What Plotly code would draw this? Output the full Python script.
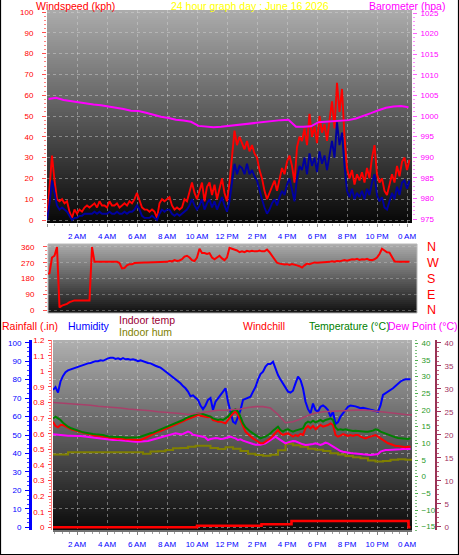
import math
import plotly.graph_objects as go

W, H = 459, 555
FONT = "Liberation Sans, Arial, sans-serif"

def px(x):
    return x / W

def py(y):
    return 1 - y / H

# ---------------- data ----------------
hour_ticks = [2, 4, 6, 8, 10, 12, 14, 16, 18, 20, 22, 24]
hour_labels = ["2 AM", "4 AM", "6 AM", "8 AM", "10 AM", "12 PM",
               "2 PM", "4 PM", "6 PM", "8 PM", "10 PM", "0 AM"]

# wind (10-minute samples from midnight)
gust_kph = [
    0, 14, 31, 19, 10, 9,
    10, 8, 9, 4, 1, 5,
    3, 5, 4, 6, 7, 6,
    7, 8, 6, 9, 7, 7,
    6, 9, 7, 7, 8, 6,
    7, 8, 7, 9, 8, 10,
    13, 9, 6, 5, 5, 4,
    5, 4, 1, 8, 10, 9,
    10, 11, 7, 5, 6, 5,
    6, 10, 9, 14, 18, 13,
    10, 14, 18, 9, 16, 18,
    12, 17, 10, 15, 20, 13,
    9, 18, 30, 43, 36, 40,
    37, 34, 38, 33, 36, 32,
    30, 24, 20, 14, 10, 13,
    16, 19, 14, 20, 25, 22,
    28, 31, 26, 18, 35, 40,
    38, 44, 36, 51, 40, 45,
    37, 50, 42, 46, 38, 48,
    57, 44, 66, 52, 63, 40,
    25, 20, 24, 17, 22, 19,
    23, 18, 25, 20, 30, 36,
    22, 18, 20, 14, 12, 17,
    22, 18, 26, 21, 28, 30,
    24, 29]
avg_kph = [
    0, 8, 19, 12, 7, 5,
    6, 5, 4, 2, 0, 1,
    1, 2, 2, 3, 3, 3,
    3, 4, 3, 4, 3, 3,
    3, 4, 3, 3, 4, 3,
    3, 4, 3, 4, 4, 5,
    7, 5, 2, 1, 1, 1,
    2, 1, 0, 3, 5, 4,
    5, 5, 3, 2, 3, 2,
    3, 4, 5, 7, 10, 7,
    5, 7, 10, 5, 8, 10,
    6, 9, 5, 8, 11, 7,
    4, 9, 18, 27, 22, 26,
    25, 22, 27, 22, 24, 21,
    19, 14, 10, 6, 3, 5,
    8, 10, 7, 11, 14, 12,
    17, 20, 15, 9, 20, 26,
    24, 30, 22, 32, 26, 30,
    23, 33, 27, 31, 24, 32,
    38, 30, 47, 36, 42, 26,
    14, 11, 15, 10, 13, 11,
    14, 10, 15, 12, 18, 22,
    12, 9, 11, 6, 5, 9,
    13, 10, 16, 12, 18, 19,
    15, 19]
wind_dir_deg = [
    205, 210, 300, 310, 360, 15,
    25, 30, 35, 45, 52, 55,
    55, 55, 55, 55, 55, 55,
    360, 275, 275, 275, 275, 275,
    275, 275, 275, 275, 275, 268,
    238, 240, 255, 262, 262, 268,
    270, 272, 272, 272, 272, 272,
    272, 272, 272, 272, 272, 272,
    275, 280, 278, 285, 280, 283,
    290, 305, 310, 300, 285, 280,
    300, 350, 325, 325, 320, 325,
    300, 290, 300, 310, 295, 285,
    300, 355, 350, 345, 340, 330,
    335, 330, 338, 335, 338, 335,
    335, 340, 335, 335, 345, 330,
    310, 285, 270, 265, 262, 260,
    262, 258, 262, 260, 255, 250,
    242, 255, 265, 262, 268, 272,
    270, 272, 274, 272, 274, 275,
    278, 276, 280, 278, 282, 285,
    282, 286, 290, 288, 292, 286,
    290, 288, 292, 286, 285, 290,
    300, 320, 350, 340, 330, 328,
    300, 278, 275, 275, 278, 275,
    275, 275]
# barometer (30-minute samples from 00:06)
baro_hpa = [
    1004.1, 1004.4, 1003.9, 1003.6, 1003.3, 1003.1, 1002.8, 1002.6,
    1002.3, 1002.1, 1001.7, 1001.3, 1001.2, 1000.8, 1000.3, 999.8,
    999.5, 999.1, 998.9, 998.6, 997.6, 997.5, 997.3, 997.4,
    997.6, 997.8, 998.0, 998.2, 998.5, 998.7, 998.9, 999.0,
    999.1, 997.4, 997.4, 997.5, 998.5, 998.6, 998.7, 998.9,
    999.0, 999.4, 1000.0, 1000.7, 1001.4, 1002.0, 1002.3, 1002.4,
    1002.1]

# outdoor (10-minute samples from 00:24)
humidity_pct = [
    74.4, 76, 73, 79, 82, 84,
    85, 85.5, 86, 86.5, 87, 87.5,
    88, 88.5, 88.8, 89, 89.5, 90,
    90, 90.5, 90.2, 91, 91.5, 91.8,
    91.9, 91.2, 91.5, 91, 91.6, 91,
    91.2, 90.8, 91, 90.6, 90, 90.4,
    89.8, 89.5, 89, 88.8, 88, 87.5,
    87, 86.5, 85.5, 84.5, 83.4, 82,
    81, 80, 79, 78, 76.5, 75.3,
    73.5, 71, 71.5, 70.5, 69, 66,
    64, 66, 69, 70, 63.5, 68,
    70, 71.7, 74, 75.3, 68, 61.8,
    57.2, 56.3, 60, 63.5, 69, 69.5,
    70, 70.7, 73.5, 76, 80, 83,
    84.3, 87, 88.5, 88.5, 89.7, 85.5,
    82.5, 80, 78, 76, 73.5, 73,
    74, 78, 81.6, 79.8, 75.3, 68,
    64, 61.8, 67, 63.5, 62.6, 65.3,
    66, 65, 63.5, 60, 62.6, 56,
    57, 60, 61.8, 64, 65.3, 66,
    65.9, 65.5, 65, 64.5, 64.8, 64.5,
    64.3, 64, 63.5, 63, 62.6, 66,
    71.7, 72.5, 73.5, 74.5, 75.3, 76.5,
    78, 79, 79.7, 80.2, 80.2, 80.2]
temp_c = [
    17.5, 18, 17.5, 17, 16.2, 15.5,
    15, 14.6, 14.3, 14, 13.7, 13.5,
    13.3, 13.2, 13, 12.9, 12.8, 12.7,
    12.7, 12.6, 12.5, 12.3, 12.1, 12,
    12, 12, 11.9, 12, 11.8, 11.7,
    11.7, 11.6, 11.7, 11.7, 11.8, 12,
    12.3, 12.5, 12.7, 13, 13.2, 13.6,
    14, 14.2, 14.5, 14.8, 15, 15.5,
    15.8, 16, 16.2, 16.6, 17, 17.5,
    17.8, 18.2, 18.5, 18.8, 19, 19,
    18.8, 18.5, 18.2, 18, 17.5, 17.2,
    17, 17.2, 17, 17.5, 18, 19,
    19.8, 20.2, 19.5, 18, 16, 14.8,
    14, 13.5, 13, 12.5, 12, 11.5,
    11.8, 12, 12.5, 13, 13.8, 14.5,
    15, 14, 13.5, 14, 14.2, 13.8,
    13.5, 13.8, 14, 14.2, 14.5, 16,
    16.5, 16.2, 16.8, 16.3, 16.6, 17,
    16.5, 17, 17.2, 17.5, 17, 14.8,
    14, 14.2, 14, 14.2, 14, 13.8,
    13.7, 13.8, 13.7, 13.5, 13.6, 13.5,
    13.5, 13.6, 13.8, 14.2, 14, 13.5,
    13.2, 12.8, 12.5, 12.3, 12, 11.8,
    11.6, 11.5, 11.4, 11.2, 11.3, 11.5]
windchill_c = [
    16.5, 15.2, 14.8, 15.5, 15.5, 15.2,
    14.7, 14.3, 14, 13.8, 13.6, 13.4,
    13.2, 13, 12.8, 12.6, 12.4, 12.3,
    12.3, 12.2, 12.1, 12, 11.8, 11.6,
    11.6, 11.5, 11.4, 11.5, 11.3, 11.2,
    11.2, 11.1, 11.2, 11.1, 11, 11,
    11.2, 11.6, 12, 12.4, 12.7, 13.1,
    13.5, 13.7, 14, 14.3, 14.6, 15,
    15.3, 15.6, 16, 16.2, 16.6, 17,
    17.3, 17.7, 18, 18.3, 18.5, 18.3,
    18.2, 18, 17.8, 18, 17, 16.8,
    16.5, 16.5, 16.3, 16, 17, 18,
    19, 19.5, 18.5, 17, 15, 13.5,
    12.8, 12, 11.5, 11, 10.5, 10,
    10, 10.5, 11, 11.5, 12.3, 13,
    14, 13, 12.5, 12.8, 13, 12.5,
    12, 12.5, 12.2, 12.8, 12.5, 14.5,
    15.2, 14.5, 15.2, 14.2, 15, 15.5,
    15, 15.2, 15.5, 16, 15.5, 12.5,
    12, 12.3, 12.8, 12.5, 12.2, 12.5,
    12.2, 12.5, 12.5, 12, 11.8, 11.5,
    11.8, 12, 12.2, 12.5, 12, 11.5,
    11, 10.5, 10, 9.8, 9.5, 9.2,
    9.2, 9, 8.8, 8.8, 9, 9]
dewpoint_c = [
    12.7, 12.6, 12.5, 12.5, 12.4, 12.3,
    12.3, 12.3, 12.2, 12.3, 12.2, 12.2,
    12.1, 12, 11.8, 11.7, 11.6, 11.5,
    11.4, 11.3, 11.2, 11.1, 11, 11,
    11, 11.1, 11, 10.9, 10.9, 10.8,
    10.7, 10.7, 10.6, 10.5, 10.5, 10.5,
    10.5, 10.6, 10.7, 10.9, 11.1, 11.3,
    11.5, 11.8, 12, 12.2, 12.4, 12.6,
    12.8, 13, 12.9, 12.7, 12.8, 13.1,
    13.5, 13.2, 12.6, 12.4, 12.3, 12.2,
    12, 11.7, 11, 11.3, 11.5, 11.6,
    11.5, 11.3, 11.4, 11.6, 11.8, 12,
    11.7, 11.5, 11, 11.2, 10.8, 10.5,
    10.2, 10, 9.8, 9.6, 9.5, 9.6,
    9.8, 10, 10.5, 11, 11.5, 12,
    11.5, 11, 10.5, 10, 10.3, 10.5,
    10.7, 10.6, 10.2, 10, 9.7, 9.5,
    9.6, 9.6, 9.8, 10, 9.8, 9.5,
    9.8, 10.2, 10, 9.5, 9, 8.5,
    8, 7.7, 7.5, 7.3, 7.2, 7.1,
    7, 7, 6.9, 6.8, 6.7, 6.6,
    6.5, 6.5, 6.6, 6.7, 6.8, 7.5,
    7.8, 8, 8, 8, 8, 8,
    8.1, 8.2, 8.3, 8.3, 8.3, 8.3]
# indoor (30-minute samples from 00:24)
indoor_temp_c = [
    27.0, 26.9, 26.8, 26.7, 26.5, 26.4, 26.2, 26.1, 25.9, 25.8,
    25.6, 25.5, 25.3, 25.2, 25.0, 24.9, 24.8, 24.6, 24.4, 24.6,
    24.9, 25.1, 25.3, 25.3, 25.4, 25.6, 25.9, 26.1, 26.1, 25.8,
    24.4, 22.6, 22.8, 23.4, 24.2, 24.7, 25.0, 25.1, 25.2, 25.3,
    25.4, 25.4, 25.3, 25.1, 25.0, 24.8, 24.6, 24.4, 24.3]
indoor_hum_pct = [
    39.5, 39.5, 40.6, 40.6, 40.6, 40.6, 40.6, 40.6, 40.6, 40.6,
    40.6, 40.6, 39.8, 41.0, 41.2, 41.9, 42.8, 43.0, 43.6, 44.2,
    44.2, 43.0, 42.4, 43.3, 42.5, 41.3, 39.8, 39.2, 38.8, 39.3,
    41.8, 45.3, 44.4, 43.6, 42.6, 42.0, 41.3, 40.1, 39.4, 38.6,
    38.0, 37.4, 36.2, 35.6, 35.9, 36.6, 36.9, 36.6, 36.5]
# rainfall (step changes)
rain_hours = [0.4, 10.0, 14.3, 16.3, 24.1, 24.23]
rain_in = [0.0, 0.01, 0.02, 0.04, 0.0, 0.0]

t_wind = [i / 6 for i in range(len(gust_kph))]
t_dir = [i / 6 for i in range(len(wind_dir_deg))]
t_baro = [0.1 + 0.5 * k for k in range(len(baro_hpa))]
t_out = [0.4 + i / 6 for i in range(len(humidity_pct))]
t_in = [0.4 + 0.5 * k for k in range(len(indoor_temp_c))]

# ---------------- figure ----------------
fig = go.Figure()

fig.add_trace(go.Scatter(x=t_wind, y=gust_kph, xaxis="x", yaxis="y", mode="lines",
                         line=dict(color="#ff0000", width=1.9)))
fig.add_trace(go.Scatter(x=t_wind, y=avg_kph, xaxis="x", yaxis="y", mode="lines",
                         line=dict(color="#0000a0", width=1.9)))
fig.add_trace(go.Scatter(x=t_baro, y=baro_hpa, xaxis="x", yaxis="y2", mode="lines",
                         line=dict(color="#ff00ff", width=2)))

fig.add_trace(go.Scatter(x=t_dir, y=wind_dir_deg, xaxis="x2", yaxis="y3", mode="lines",
                         line=dict(color="#ff0000", width=2)))
fig.add_trace(go.Scatter(x=t_dir[:1], y=wind_dir_deg[:1], xaxis="x2", yaxis="y4", mode="markers",
                         marker=dict(opacity=0)))

fig.add_trace(go.Scatter(x=rain_hours, y=rain_in, xaxis="x3", yaxis="y6", mode="lines",
                         line=dict(color="#ff0000", width=2.6, shape="hv")))
fig.add_trace(go.Scatter(x=t_in, y=indoor_hum_pct, xaxis="x3", yaxis="y5", mode="lines",
                         line=dict(color="#808000", width=2, shape="hv")))
fig.add_trace(go.Scatter(x=t_in, y=indoor_temp_c, xaxis="x3", yaxis="y8", mode="lines",
                         line=dict(color="#a8406a", width=1.6)))
fig.add_trace(go.Scatter(x=t_out, y=dewpoint_c, xaxis="x3", yaxis="y7", mode="lines",
                         line=dict(color="#ff00ff", width=2)))
fig.add_trace(go.Scatter(x=t_out, y=windchill_c, xaxis="x3", yaxis="y7", mode="lines",
                         line=dict(color="#ff0000", width=2)))
fig.add_trace(go.Scatter(x=t_out, y=temp_c, xaxis="x3", yaxis="y7", mode="lines",
                         line=dict(color="#008000", width=2)))
fig.add_trace(go.Scatter(x=t_out, y=humidity_pct, xaxis="x3", yaxis="y5", mode="lines",
                         line=dict(color="#0000ff", width=2)))

# ---------------- backgrounds ----------------
shapes = []

def gradient(x0, x1, y0, y1, c_top, c_bot, step=2):
    n = int(math.ceil((y1 - y0) / step))
    for k in range(n):
        ya = y0 + k * step
        yb = min(y1, ya + step + 1)
        t = (k + 0.5) / n
        c = int(round(c_top + (c_bot - c_top) * t))
        shapes.append(dict(type="rect", xref="paper", yref="paper",
                           x0=px(x0), x1=px(x1), y0=py(yb), y1=py(ya),
                           fillcolor=f"rgb({c},{c},{c})", line=dict(width=0),
                           layer="below"))

gradient(47, 412, 10, 223, 172, 6)
gradient(48, 417, 244, 313, 172, 14)
gradient(53, 412, 340, 530, 176, 10)

shapes.append(dict(type="rect", xref="paper", yref="paper",
                   x0=px(48), x1=px(417), y0=py(313), y1=py(244),
                   line=dict(color="#b8b8b8", width=1), layer="below"))
# outer frame (left, right, bottom)
for (xa, ya, xb, yb) in [(0.5, 0, 0.5, 555), (458.5, 0, 458.5, 555), (0, 554.5, 459, 554.5)]:
    shapes.append(dict(type="line", xref="paper", yref="paper",
                       x0=px(xa), x1=px(xb), y0=py(ya), y1=py(yb),
                       line=dict(color="#000000", width=1.2)))

# ---------------- titles ----------------
ann = []

def label(text, x, y, color, size=10.5, anchor="left"):
    ann.append(dict(text=text, x=px(x), y=py(y), xref="paper", yref="paper",
                    xanchor=anchor, yanchor="middle", showarrow=False,
                    font=dict(family=FONT, size=size, color=color)))

label("Windspeed (kph)", 34, 6, "#ff0000", 10.5)
label("24 hour graph day : June 16 2026", 250, 6, "#ffff00", 10.5, "center")
label("Barometer (hpa)", 367, 6, "#ff00ff", 10.5)

label("Rainfall (.in)", 0, 326, "#ff0000", 10.5)
label("Humidity", 66, 326, "#0000ff", 10.5)
label("Indoor temp", 117, 320, "#990033", 10.5)
label("Indoor hum", 117, 332, "#808000", 10.5)
label("Windchill", 241, 326, "#ff0000", 10.5)
label("Temperature (°C)", 307, 326, "#008000", 10.5)
label("Dew Point (°C)", 386, 326, "#ff00ff", 10.5)

grid_col = "rgba(215,215,215,0.45)"

def tf(color, size=8):
    return dict(family=FONT, size=size, color=color)

fig.update_layout(
    width=W, height=H, margin=dict(l=0, r=0, t=0, b=0, pad=0, autoexpand=False),
    paper_bgcolor="#ffffff", plot_bgcolor="rgba(0,0,0,0)",
    showlegend=False, shapes=shapes, annotations=ann,
    font=dict(family=FONT),
    # top chart
    xaxis=dict(domain=[px(47), px(412)], range=[0, 24.333], anchor="y",
               tickvals=[0] + hour_ticks, ticktext=[""] + hour_labels,
               tickfont=tf("#0000ff"), ticks="outside", ticklen=3, tickcolor="#909090",
               minor=dict(dtick=0.5, ticks="outside", ticklen=2, tickcolor="#b0b0b0"),
               showgrid=True, gridcolor=grid_col, griddash="dot", zeroline=False,
               showline=False, ticklabelstandoff=2),
    yaxis=dict(domain=[py(223), py(10)], range=[-1.44, 100.96], anchor="x",
               tickvals=list(range(0, 101, 10)), tickfont=tf("#ff0000"),
               ticks="outside", ticklen=4, tickcolor="#ff5050",
               minor=dict(dtick=2, ticks="outside", ticklen=2, tickcolor="#ff8080"),
               showgrid=True, gridcolor=grid_col, griddash="dot", zeroline=False,
               showline=False, ticklabelstandoff=7),
    yaxis2=dict(overlaying="y", side="right", anchor="x", range=[974.03, 1025.73],
                tickvals=list(range(975, 1026, 5)), tickfont=tf("#ff00ff"),
                ticks="outside", ticklen=4, tickcolor="#ff60ff",
                minor=dict(dtick=1, ticks="outside", ticklen=2, tickcolor="#ff90ff"),
                showgrid=False, zeroline=False, showline=False, ticklabelstandoff=2),
    # wind direction
    xaxis2=dict(domain=[px(48), px(417)], range=[0.0667, 24.667], anchor="y3",
                showticklabels=False, ticks="", showgrid=False, zeroline=False),
    yaxis3=dict(domain=[py(313), py(244)], range=[-17.1, 377.1], anchor="x2",
                tickvals=[0, 90, 180, 270, 360], tickfont=tf("#ff0000"),
                ticks="outside", ticklen=4, tickcolor="#ff5050",
                minor=dict(dtick=22.5, ticks="outside", ticklen=2, tickcolor="#ff8080"),
                showgrid=True, gridcolor="rgba(215,215,215,0.35)", griddash="dot",
                zeroline=False, showline=False, ticklabelstandoff=7),
    yaxis4=dict(overlaying="y3", side="right", anchor="x2", range=[-17.1, 377.1],
                tickvals=[0, 90, 180, 270, 360], ticktext=["N", "E", "S", "W", "N"],
                tickfont=tf("#ff0000", 12.5), ticks="", showgrid=False, zeroline=False,
                showline=False, ticklabelstandoff=9),
    # bottom chart
    xaxis3=dict(domain=[px(53), px(412)], range=[0.4, 24.333], anchor="y5",
                tickvals=hour_ticks, ticktext=hour_labels, tickfont=tf("#0000ff"),
                ticks="outside", ticklen=3, tickcolor="#808080",
                minor=dict(dtick=0.5, ticks="outside", ticklen=2, tickcolor="#a0a0a0"),
                showgrid=True, gridcolor=grid_col, griddash="dot", zeroline=False,
                showline=True, linecolor="#707070", linewidth=2, ticklabelstandoff=2),
    yaxis5=dict(domain=[py(530), py(340)], range=[-1.46, 101.46], anchor="free",
                position=px(30), side="left",
                tickvals=list(range(0, 101, 10)), tickfont=tf("#0000ff"),
                ticks="outside", ticklen=4, tickcolor="#0000ff",
                minor=dict(dtick=2.5, ticks="outside", ticklen=2, tickcolor="#4040ff"),
                showgrid=True, gridcolor=grid_col, griddash="dot", zeroline=False,
                showline=True, linecolor="#0000ff", linewidth=3, ticklabelstandoff=2),
    yaxis6=dict(overlaying="y5", anchor="free", position=px(51), side="left",
                range=[-0.0173, 1.2008],
                tickvals=[i / 10 for i in range(13)],
                ticktext=["0", "0.1", "0.2", "0.3", "0.4", "0.5", "0.6", "0.7",
                          "0.8", "0.9", "1", "1.1", "1.2"],
                tickfont=tf("#ff0000"), ticks="outside", ticklen=3, tickcolor="#ff4040",
                minor=dict(dtick=0.02, ticks="outside", ticklen=2, tickcolor="#ff8080"),
                showgrid=False, zeroline=False, showline=True,
                linecolor="rgba(255,90,90,0.8)", linewidth=1, ticklabelstandoff=2),
    yaxis7=dict(overlaying="y5", anchor="free", position=px(414), side="right",
                range=[-16.0, 41.0], tickvals=list(range(-15, 41, 5)),
                tickfont=tf("#2a9a2a"), ticks="outside", ticklen=3, tickcolor="#50b050",
                minor=dict(dtick=1, ticks="outside", ticklen=2, tickcolor="#80c080"),
                showgrid=False, zeroline=False, showline=False, ticklabelstandoff=2),
    yaxis8=dict(overlaying="y5", anchor="free", position=px(436), side="right",
                range=[-0.72, 40.59], tickvals=list(range(0, 41, 5)),
                tickfont=tf("#a03060"), ticks="outside", ticklen=4, tickcolor="#a03060",
                minor=dict(dtick=1, ticks="outside", ticklen=2, tickcolor="#c06080"),
                showgrid=False, zeroline=False, showline=True, linecolor="#993355",
                linewidth=2, ticklabelstandoff=2),
)

fig.write_html(
    "out.html",
    config={"displayModeBar": False, "staticPlot": True},
    post_script="document.documentElement.style.margin='0';"
                "document.body.style.margin='0';document.body.style.padding='0';"
                "document.body.style.overflow='hidden';",
)
